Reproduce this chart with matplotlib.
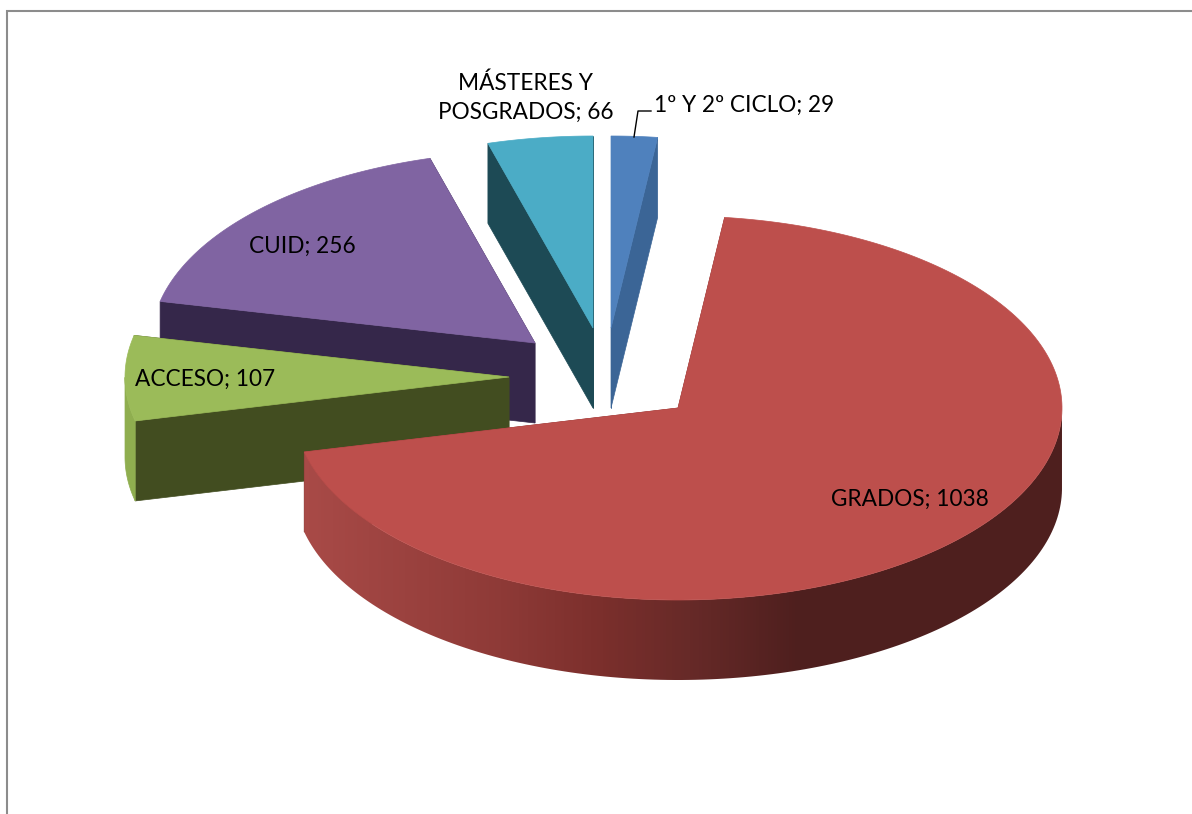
import numpy as np
import matplotlib
matplotlib.use('Agg')
import matplotlib.pyplot as plt
from matplotlib.colors import LinearSegmentedColormap
from matplotlib.patches import Polygon

labels = ['1º Y 2º CICLO', 'GRADOS', 'ACCESO', 'CUID', 'MÁSTERES Y\nPOSGRADOS']
values = [29, 1038, 107, 256, 66]

top_colors = ['#4f81bd', '#bd4f4c', '#9bbb59', '#8064a2', '#4bacc6']
cut_colors = ['#3b6596', '#7a302e', '#424d20', '#35274a', '#1d4a55']
side_colors = ['#3b6596', None, '#8fae4f', '#35274a', '#1d4a55']
red_side = LinearSegmentedColormap.from_list('red_side', [
    (0.0, '#aa4b48'), (0.27, '#8e3a37'), (0.40, '#7b2f2c'),
    (0.515, '#672a28'), (0.66, '#4e1f1e'), (1.0, '#4e1f1e')])

# pie geometry in pixels
rx, ry, depth = 384, 192, 80
centers = [(611, 328), (678, 408), (509, 377), (535, 343), (593, 328)]
draw_order = [3, 2, 4, 0, 1]
label_pos = [(654, 105), (910, 499), (205, 379), (302, 246), (526, 98)]

fig = plt.figure(figsize=(11.92, 8.14), dpi=100)
ax = fig.add_axes([0, 0, 1, 1])
ax.axis('off')

# frame, open on the right and at the bottom
ax.plot([7, 7, 1192], [814, 10.5, 10.5], color='#8c8c8c', lw=1.5, solid_joinstyle='miter')

ends = np.cumsum(values) / np.sum(values) * 2 * np.pi
starts = np.concatenate([[0], ends[:-1]])


def point(center, theta):
    return center[0] + rx * np.sin(theta), center[1] - ry * np.cos(theta)


z = 2
for i in draw_order:
    c = centers[i]
    # radial cut faces
    for theta in (starts[i], ends[i]):
        x, y = point(c, theta)
        ax.add_patch(Polygon([c, (x, y), (x, y + depth), (c[0], c[1] + depth)],
                             fc=cut_colors[i], ec=cut_colors[i], lw=0.5, zorder=z))
    z += 1
    # outer rim, only the part that faces the viewer
    ts = np.linspace(starts[i], ends[i], 240)
    front = ts[np.cos(ts) < 0]
    if len(front) > 1:
        xs, ys = point(c, front)
        rim = np.column_stack([np.r_[xs, xs[::-1]], np.r_[ys, ys[::-1] + depth]])
        if side_colors[i] is None:
            patch = Polygon(rim, fc='none', ec='none', zorder=z)
            ax.add_patch(patch)
            grad = ax.imshow(np.linspace(0, 1, 768).reshape(1, -1), cmap=red_side, vmin=0, vmax=1,
                             extent=[c[0] - rx, c[0] + rx, 814, 0], aspect='auto', zorder=z)
            grad.set_clip_path(patch)
        else:
            ax.add_patch(Polygon(rim, fc=side_colors[i], ec=side_colors[i], lw=0.5, zorder=z))
    z += 1
    # top face
    xs, ys = point(c, ts)
    ax.add_patch(Polygon(np.column_stack([np.r_[c[0], xs], np.r_[c[1], ys]]),
                         fc=top_colors[i], ec=top_colors[i], lw=0.5, zorder=z))
    z += 1

for i in range(len(values)):
    ax.text(label_pos[i][0], label_pos[i][1], '%s; %d' % (labels[i], values[i]),
            family='Lato', fontsize=16.3, color='black', va='center',
            ha='left' if i == 0 else 'center', linespacing=1.45, zorder=z)

# leader line of the smallest slice
ax.plot([634, 638, 651], [137, 111, 111], color='black', lw=1, zorder=z)

ax.set_xlim(0, 1192)
ax.set_ylim(814, 0)

fig.savefig('out.png', dpi=100)
